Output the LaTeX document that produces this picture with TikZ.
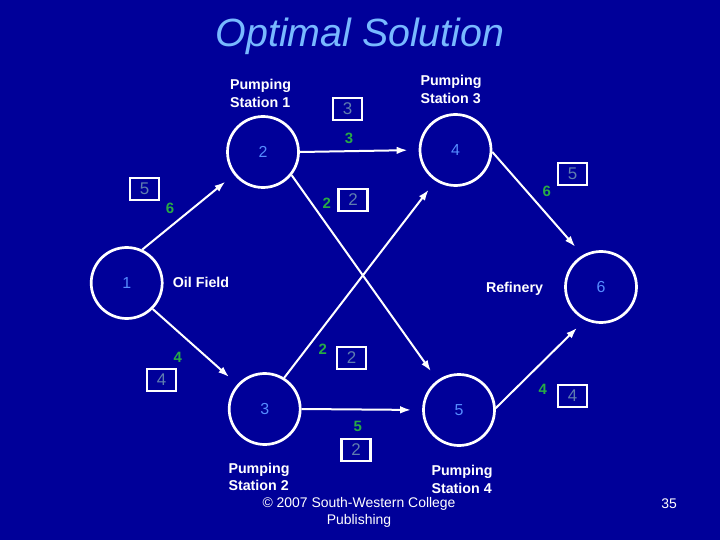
\documentclass[tikz,border=0pt]{standalone}
\usepackage{fontspec}
\setmainfont{Liberation Sans}
\usetikzlibrary{arrows.meta}
\definecolor{bgblue}{RGB}{0,0,153}
\definecolor{titleblue}{RGB}{120,185,255}
\definecolor{nodeblue}{RGB}{85,140,255}
\definecolor{boxgray}{RGB}{95,125,175}
\definecolor{flowgreen}{RGB}{40,170,70}
\begin{document}
\begin{tikzpicture}[x=1bp, y=-1bp,
    station/.style={circle, draw=white, line width=2.7bp, minimum size=71bp, inner sep=0pt,
                    text=nodeblue, font=\fontsize{16}{16}\selectfont},
    capbox/.style={draw=white, line width=2.7bp, minimum width=29bp, minimum height=22bp,
                   inner sep=0pt, text=boxgray, font=\fontsize{17}{17}\selectfont},
    flownum/.style={text=flowgreen, inner sep=0pt, font=\bfseries\fontsize{15}{15}\selectfont},
    caption/.style={text=white, align=left, inner sep=0pt, font=\bfseries\fontsize{14.3}{17.5}\selectfont},
    flow/.style={white, line width=2bp, -{Latex[length=11bp,width=7.5bp]}, shorten >=11bp}]
  \fill[bgblue] (0,0) rectangle (720,540);
  \useasboundingbox (0,0) rectangle (720,540);

  \draw (360,47) node (title) [anchor=base, text=titleblue, font=\itshape\fontsize{39.5}{39.5}\selectfont] {Optimal Solution};

  % stations
  \draw (126.7,283) node (oil) [station] {1};
  \draw (263,152) node (st1) [station] {2};
  \draw (264.7,409) node (st2) [station] {3};
  \draw (455.5,150) node (st3) [station] {4};
  \draw (459,410) node (st4) [station] {5};
  \draw (601,287) node (ref) [station] {6};

  \draw (201,282) node (oil_lbl) [caption] {Oil Field};
  \draw (514.5,289) node (ref_lbl) [caption] {Refinery};
  \draw (260.5,93.5) node (st1_lbl) [caption] {Pumping\\Station 1};
  \draw (451,89.5) node (st3_lbl) [caption] {Pumping\\Station 3};
  \draw (259,477) node (st2_lbl) [caption] {Pumping\\Station 2};
  \draw (462,479.5) node (st4_lbl) [caption] {Pumping\\Station 4};

  % pipelines
  \draw[flow] (oil.65) -- (st1.218);
  \draw[flow] (oil.-45) -- (st2.138);
  \draw[flow] (st1.east) -- (st3.west);
  \draw[flow] (st1.-39) -- (st4.126);
  \draw[flow] (st2.58) -- (st3.237);
  \draw[flow] (st2.east) -- (st4.west);
  \draw[flow] (st3.-3) -- (ref.120);
  \draw[flow] (st4.3) -- (ref.244);

  % capacities and flows
  \draw (144.5,189) node (cap_12) [capbox] {5};
  \draw (170,208) node (flw_12) [flownum] {6};
  \draw (347.5,109) node (cap_24) [capbox] {3};
  \draw (349,138) node (flw_24) [flownum] {3};
  \draw (353,200) node (cap_25) [capbox] {2};
  \draw (326.7,203.3) node (flw_25) [flownum] {2};
  \draw (572.5,174) node (cap_46) [capbox] {5};
  \draw (546.7,191) node (flw_46) [flownum] {6};
  \draw (161.5,380) node (cap_13) [capbox] {4};
  \draw (177.7,357.3) node (flw_13) [flownum] {4};
  \draw (351.5,358) node (cap_34) [capbox] {2};
  \draw (322.7,349.3) node (flw_34) [flownum] {2};
  \draw (356,450) node (cap_35) [capbox] {2};
  \draw (357.7,426) node (flw_35) [flownum] {5};
  \draw (572.5,396) node (cap_56) [capbox] {4};
  \draw (542.7,389.3) node (flw_56) [flownum] {4};

  \draw (359,512) node (copy) [text=white, align=center, inner sep=0pt, font=\fontsize{14}{17}\selectfont] {\textcopyright{} 2007 South-Western College\\Publishing};
  \draw (669,504) node (page) [text=white, inner sep=0pt, font=\fontsize{14}{14}\selectfont] {35};
\end{tikzpicture}
\end{document}
